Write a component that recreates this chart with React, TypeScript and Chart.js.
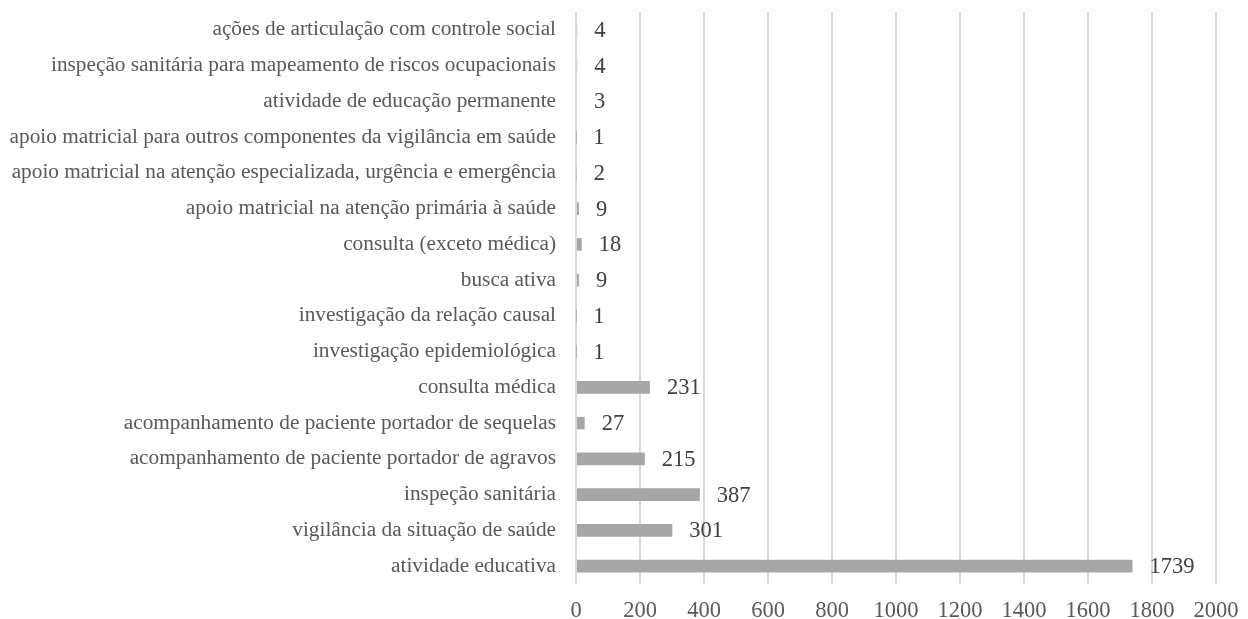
import React, { useEffect, useRef } from "react";
import { Chart, registerables } from "chart.js";

Chart.register(...registerables);

const categories = [
  "ações de articulação com controle social",
  "inspeção sanitária para mapeamento de riscos ocupacionais",
  "atividade de educação permanente",
  "apoio matricial para outros componentes da vigilância em saúde",
  "apoio matricial na atenção especializada, urgência e emergência",
  "apoio matricial na atenção primária à saúde",
  "consulta (exceto médica)",
  "busca ativa",
  "investigação da relação causal",
  "investigação epidemiológica",
  "consulta médica",
  "acompanhamento de paciente portador de sequelas",
  "acompanhamento de paciente portador de agravos",
  "inspeção sanitária",
  "vigilância da situação de saúde",
  "atividade educativa",
];

const values = [4, 4, 3, 1, 2, 9, 18, 9, 1, 1, 231, 27, 215, 387, 301, 1739];

const xMin = 0;
const xMax = 2000;
const xStep = 200;

const FONT = "'Liberation Serif', 'Times New Roman', serif";

const dataLabels = {
  id: "dataLabels",
  afterDatasetsDraw(chart: any) {
    const ctx = chart.ctx;
    const meta = chart.getDatasetMeta(0);
    ctx.save();
    ctx.font = `22.5px ${FONT}`;
    ctx.fillStyle = "#404040";
    ctx.textAlign = "left";
    ctx.textBaseline = "middle";
    meta.data.forEach((bar: any, i: number) => {
      ctx.fillText(String(values[i]), bar.x + 17, bar.y + 1);
    });
    ctx.restore();
  },
};

export default function App() {
  const ref = useRef<HTMLCanvasElement | null>(null);
  useEffect(() => {
    document.body.style.margin = "0";
    const chart = new Chart(ref.current as HTMLCanvasElement, {
      type: "bar",
      data: {
        labels: categories,
        datasets: [
          {
            data: values,
            backgroundColor: "#a6a6a6",
            borderWidth: 0,
            categoryPercentage: 0.7,
            barPercentage: 0.5,
          },
        ],
      },
      plugins: [dataLabels],
      options: {
        indexAxis: "y",
        animation: false,
        responsive: false,
        maintainAspectRatio: false,
        layout: { padding: { top: 12, right: 32, left: 0, bottom: 0 } },
        plugins: {
          legend: { display: false },
          tooltip: { enabled: false },
          title: { display: false },
        },
        scales: {
          x: {
            min: xMin,
            max: xMax,
            ticks: {
              stepSize: xStep,
              color: "#595959",
              font: { family: FONT, size: 22.5 },
              padding: 14,
              maxRotation: 0,
              callback: (v: any) => String(v),
            },
            grid: {
              color: "#d9d9d9",
              lineWidth: 2,
              drawTicks: false,
            },
            border: { display: false },
            afterFit: (s: any) => {
              s.height = 35;
              s.paddingLeft = 0;
              s.paddingRight = 0;
            },
          },
          y: {
            ticks: {
              color: "#595959",
              font: { family: FONT, size: 21.3 },
              padding: 20,
              autoSkip: false,
            },
            grid: { display: false, drawTicks: false },
            border: { display: false },
            afterFit: (s: any) => {
              s.width = 576;
              s.paddingTop = 0;
              s.paddingBottom = 0;
            },
          },
        },
      },
    });
    return () => chart.destroy();
  }, []);
  return (
    <div style={{ width: 1248, height: 619 }}>
      <canvas ref={ref} width={1248} height={619} style={{ display: "block" }} />
    </div>
  );
}
